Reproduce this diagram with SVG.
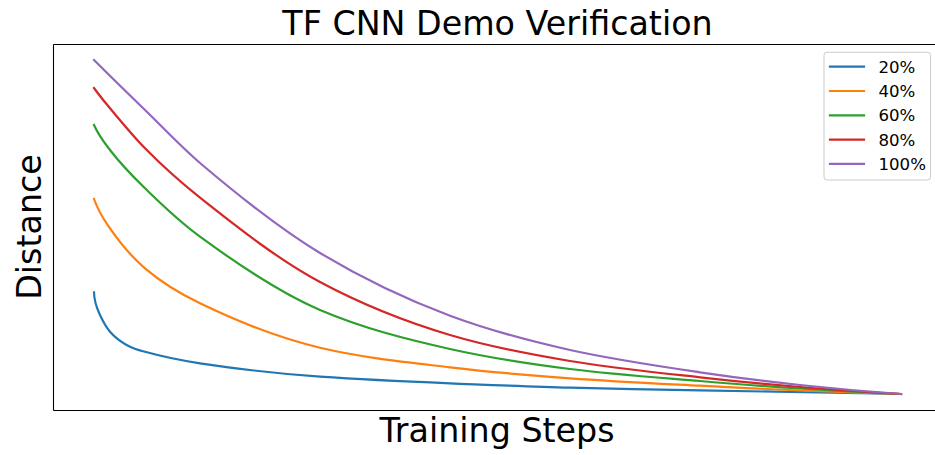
<svg xmlns="http://www.w3.org/2000/svg" width="935" height="455" viewBox="0 0 935 455">
<style>
.t{font-family:"DejaVu Sans",sans-serif;fill:#000}
.big{font-size:33.3px;text-anchor:middle}
.leg{font-size:16.6px}
.c{fill:none;stroke-width:2.2;stroke-linejoin:round;stroke-linecap:square}
.spine{stroke:#000;stroke-width:1.1;fill:none}
</style>
<rect x="0" y="0" width="935" height="455" fill="#fff"/>
<g id="axes">
<path class="spine" d="M53.5,44.5V410.5M53.5,44.5H935M53.5,410.5H935"/>
</g>
<g id="curves">
<path id="c20" class="c" stroke="#1f77b4" d="M94,292.3C94,300.5 98,310.8 100,315C103.3,322 106.7,327.9 110,331.7C116.7,339.4 123.3,343.4 130,346.7C135,349.2 140,350.4 145,351.8C163.3,356.9 181.7,360.55 200,363.3C240,369.3 280,373.9 320,376.7C363.3,379.7 406.7,381.6 450,383.3C490,384.9 530,386.7 570,387.7C613.3,388.8 656.7,389.5 700,390.3C767,391.6 834,392.8 901,394"/>
<path id="c40" class="c" stroke="#ff7f0e" d="M94,199C99.3,213.9 104.7,220.6 110,228.3C121.7,245.2 133.3,258.3 145,268.3C163.3,283.9 181.7,294.4 200,303.3C240,322.7 280,338.3 320,347.7C363.3,357.9 406.7,362.2 450,367.3C490,372 530,375.4 570,378.3C613.3,381.4 656.7,383.45 700,385.7C733.3,387.4 766.7,389.1 800,390.5C833.7,391.9 867.3,393 901,394"/>
<path id="c60" class="c" stroke="#2ca02c" d="M94,125C99.3,136.7 104.7,143 110,150C121.7,165.3 133.3,176.9 145,188.3C163.3,206.3 181.7,223.3 200,236.7C240,266 280,292.9 320,310C363.3,328.5 406.7,339.3 450,349C490,358 530,364 570,369C613.3,374.4 656.7,377.4 700,381C733.3,383.8 766.7,386.4 800,388.5C833.7,390.7 867.3,392.5 901,394"/>
<path id="c80" class="c" stroke="#d62728" d="M94,88C99.3,95.5 104.7,101.9 110,108.3C121.7,122.4 133.3,136.5 145,148.3C163.3,166.9 181.7,183.1 200,197.7C240,229.5 280,260.6 320,282C363.3,305.2 406.7,322.1 450,335C490,346.9 530,354.4 570,361C613.3,368.1 656.7,372.5 700,377.3C733.3,381 766.7,384.3 800,387C833.7,389.8 867.3,392.1 901,394"/>
<path id="c100" class="c" stroke="#9467bd" d="M94,60C111,77 128,93.5 145,110C163.3,127.8 181.7,147.4 200,163C240,197 280,229 320,253C363.3,279 406.7,299.6 450,315.7C490,330.5 530,341.1 570,350C613.3,359.6 656.7,365.9 700,372.3C733.3,377.2 766.7,381.5 800,385C833.7,388.6 867.3,391.6 901,394"/>
</g>
<g id="title"><text class="t big" x="497.5" y="35">TF CNN Demo Verification</text></g>
<g id="xlabel"><text class="t big" x="497" y="442">Training Steps</text></g>
<g id="ylabel"><text class="t big" transform="translate(41,227) rotate(-90)">Distance</text></g>
<g id="legend">
<rect x="824" y="52.3" width="106.5" height="127.7" rx="3" fill="#fff" fill-opacity="0.8" stroke="#cccccc" stroke-width="1"/>
<path class="c" stroke="#1f77b4" d="M830,66.7H864"/>
<path class="c" stroke="#ff7f0e" d="M830,91H864"/>
<path class="c" stroke="#2ca02c" d="M830,115.3H864"/>
<path class="c" stroke="#d62728" d="M830,139.6H864"/>
<path class="c" stroke="#9467bd" d="M830,163.9H864"/>
<text class="t leg" x="878.5" y="72.7">20%</text>
<text class="t leg" x="878.5" y="97">40%</text>
<text class="t leg" x="878.5" y="121.3">60%</text>
<text class="t leg" x="878.5" y="145.6">80%</text>
<text class="t leg" x="878.5" y="169.9">100%</text>
</g>
</svg>
